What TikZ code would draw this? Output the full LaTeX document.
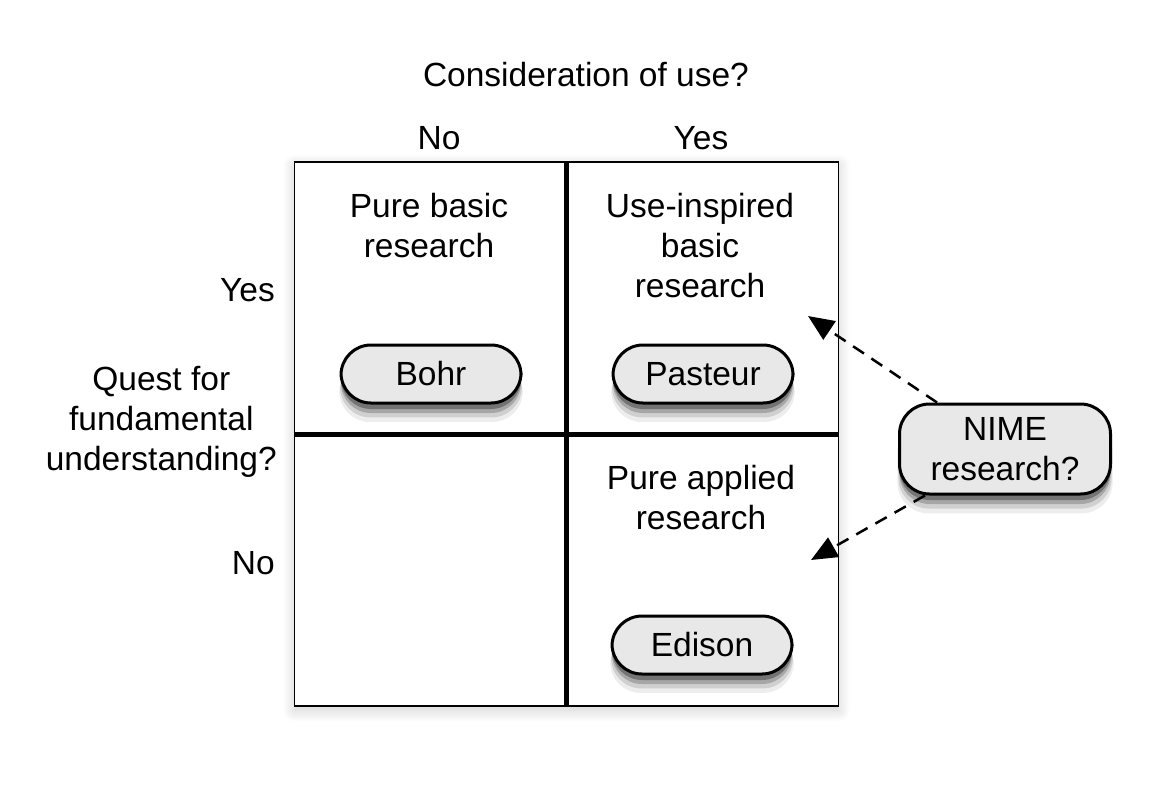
\documentclass[tikz,border=0pt]{standalone}
\usepackage{fontspec}
\setmainfont{Liberation Sans}
\usetikzlibrary{arrows.meta,shadows,shadows.blur}

\begin{document}
\begin{tikzpicture}[
		x=1pt,
		y=-1pt,
		every node/.style={
			font=\fontsize{33.5}{40}\selectfont,
			align=center,
			inner sep=0pt,
		},
		person/.style={
			draw,
			line width=3pt,
			fill=black!9,
			rounded corners=30pt,
			minimum width=180pt,
			minimum height=58pt,
			drop shadow={shadow xshift=0pt, shadow yshift=-18pt, shadow scale=1.02, fill=black, opacity=0.07},
			drop shadow={shadow xshift=0pt, shadow yshift=-14pt, shadow scale=1.01, fill=black, opacity=0.12},
			drop shadow={shadow xshift=0pt, shadow yshift=-10pt, fill=black, opacity=0.2},
			drop shadow={shadow xshift=0pt, shadow yshift=-6pt, fill=black, opacity=0.3},
		},
		divider/.style={
			line width=5pt,
		},
		guess/.style={
			dashed,
			dash pattern=on 13pt off 9pt,
			line width=2.5pt,
			-{Triangle[length=26pt,width=22pt]},
		},
	]
		\useasboundingbox (0,0) rectangle (1166,806);

		% quadrant frame
		\node[
			draw,
			line width=1.5pt,
			fill=white,
			minimum width=544pt,
			minimum height=544pt,
			blur shadow={shadow xshift=0pt, shadow yshift=-4pt, shadow blur radius=12pt, shadow blur steps=12, shadow opacity=20},
		] (frame) at (566.5,434) {};
		\draw[divider] (frame.north) -- (frame.south);
		\draw[divider] (frame.west) -- (frame.east);

		% axes
		\node (use) at (586,75) {Consideration of use?};
		\node (useno) at (439,138) {No};
		\node (useyes) at (701,138) {Yes};
		\node[anchor=east] (questyes) at (275,290) {Yes};
		\node[anchor=east] (quest) at (277,422) {Quest for\\fundamental\\understanding?};
		\node[anchor=east] (questno) at (275,563) {No};

		% quadrants
		\node (basic) at (429,226) {Pure basic\\research};
		\node (inspired) at (700,246) {Use-inspired\\basic\\research};
		\node (applied) at (701,498) {Pure applied\\research};

		\node[person] (bohr) at (431,374) {Bohr};
		\node[person] (pasteur) at (703,374) {Pasteur};
		\node[person] (edison) at (702,645) {Edison};

		\node[person, minimum width=211pt, minimum height=90pt] (nime) at (1005,449) {NIME\\research?};

		\coordinate (inspiredtip) at (808,316);
		\coordinate (appliedtip) at (811,560);
		\draw[guess] ([xshift=39pt]nime.north west) -- (inspiredtip);
		\draw[guess] ([xshift=27pt]nime.south west) -- (appliedtip);
	\end{tikzpicture}
\end{document}
